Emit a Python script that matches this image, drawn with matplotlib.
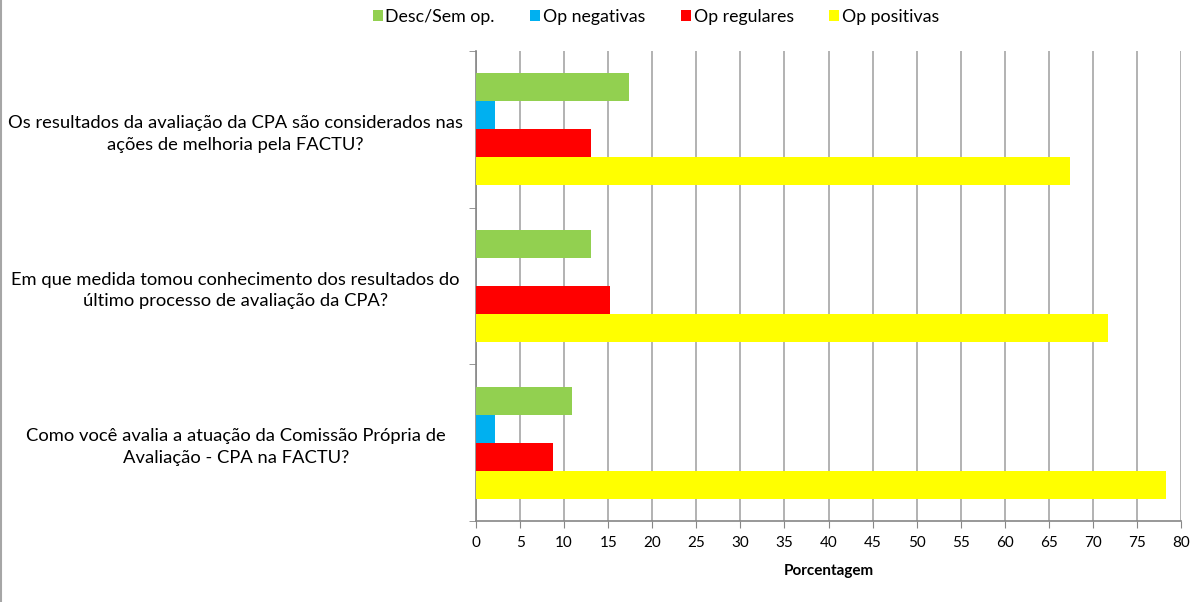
import matplotlib
matplotlib.use("Agg")
import matplotlib.pyplot as plt
import numpy as np

plt.rcParams['font.family'] = ['Lato', 'DejaVu Sans']

categories = [
    "Os resultados da avaliação da CPA são considerados nas\nações de melhoria pela FACTU?",
    "Em que medida tomou conhecimento dos resultados do\núltimo processo de avaliação da CPA?",
    "Como você avalia a atuação da Comissão Própria de\nAvaliação - CPA na FACTU?",
]
series_names = ["Desc/Sem op.", "Op negativas", "Op regulares", "Op positivas"]
desc = [17.39, 13.04, 10.87]
neg = [2.17, 0.0, 2.17]
reg = [13.04, 15.22, 8.70]
pos = [67.39, 71.74, 78.26]
colors = ["#92d050", "#00b0f0", "#ff0000", "#ffff00"]
xticks = list(range(0, 85, 5))

fig = plt.figure(figsize=(11.96, 6.02), dpi=100)
ax = fig.add_axes([476/1196, 1 - 521/602, (1181-476)/1196, (521-51)/602])

n = len(categories)
ypos = np.arange(n)[::-1]  # first category at top
bar_h = 1/1.4/4
data = [desc, neg, reg, pos]
handles = []
for i, (name, vals, c) in enumerate(zip(series_names, data, colors)):
    offs = 1/1.4/2 - bar_h*(i+0.5)
    h = ax.barh(ypos + offs, vals, height=bar_h, color=c, label=name, zorder=3)
    handles.append(h)

ax.set_xlim(0, 80)
ax.set_ylim(-0.5, n-0.5)
ax.set_xticks(xticks)
ax.set_xticklabels([str(t) for t in xticks], fontsize=11)
ax.set_yticks(ypos)
ax.set_yticklabels(categories, fontsize=13.2, ha='center', linespacing=1.45)
ax.tick_params(axis='y', length=0, pad=173)
ax.set_yticks([-0.5, 0.5, 1.5, 2.5], minor=True)
ax.tick_params(axis='y', which='minor', length=5, color='#868686')
ax.tick_params(axis='x', length=5, color='#868686', pad=6)
ax.grid(axis='x', color='#a6a6a6', linewidth=1.2, zorder=0)
for s in ['top', 'right']:
    ax.spines[s].set_visible(False)
for s in ['left', 'bottom']:
    ax.spines[s].set_color('#868686')
    ax.spines[s].set_linewidth(1.2)
ax.set_xlabel("Porcentagem", fontsize=11, fontweight='bold', labelpad=10)

fig.legend(handles, series_names, loc='center', bbox_to_anchor=(656/1196, 1-17/602),
           ncol=4, frameon=False, fontsize=12.8, handlelength=0.56, handleheight=0.56,
           columnspacing=2.0, handletextpad=0.15)

fig.add_artist(plt.Line2D([0.0008, 0.0008], [0, 1], color='#a6a6a6', linewidth=1.5,
                          transform=fig.transFigure))

fig.savefig("out.png", dpi=100)
